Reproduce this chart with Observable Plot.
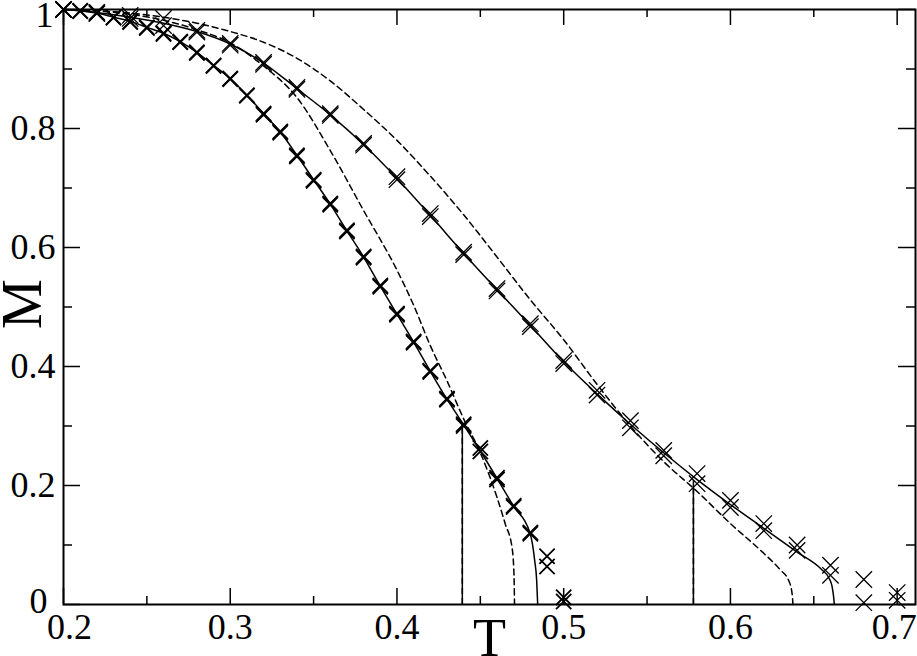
<!DOCTYPE html>
<html>
<head>
<meta charset="utf-8">
<script src="https://cdn.jsdelivr.net/npm/d3@7"></script>
<script src="https://cdn.jsdelivr.net/npm/@observablehq/plot@0.6"></script>
<style>
  html, body { margin: 0; padding: 0; background: #fff; }
  #chart svg { display: block; }
</style>
</head>
<body>
<div id="chart"></div>
<script>
// ---- Data ----
// Left set of markers (two nearly identical series), T step 0.01
const leftT  = [0.20,0.21,0.22,0.23,0.24,0.25,0.26,0.27,0.28,0.29,0.30,0.31,0.32,0.33,0.34,0.35,0.36,0.37,0.38,0.39,0.40,0.41,0.42,0.43,0.44,0.45,0.46,0.47,0.48,0.49,0.50];
const leftMA = [1.000,0.998,0.995,0.987,0.980,0.970,0.960,0.946,0.928,0.906,0.884,0.856,0.825,0.795,0.755,0.714,0.674,0.629,0.585,0.536,0.489,0.442,0.393,0.346,0.303,0.257,0.213,0.166,0.121,0.081,0.012];
const leftMB = [1.000,0.997,0.994,0.986,0.979,0.969,0.959,0.945,0.927,0.905,0.883,0.855,0.823,0.793,0.753,0.712,0.672,0.627,0.583,0.534,0.487,0.440,0.391,0.344,0.300,0.263,0.210,0.164,0.119,0.064,0.005];

// Right set of markers (two series), T step 0.02
const rightT  = [0.20,0.22,0.24,0.26,0.28,0.30,0.32,0.34,0.36,0.38,0.40,0.42,0.44,0.46,0.48,0.50,0.52,0.54,0.56,0.58,0.60,0.62,0.64,0.66,0.68,0.70];
const rightMA = [1.000,0.995,0.990,0.985,0.965,0.943,0.911,0.869,0.825,0.775,0.719,0.657,0.592,0.531,0.472,0.410,0.360,0.309,0.259,0.220,0.175,0.136,0.100,0.066,0.042,0.020];
const rightMB = [1.000,0.993,0.985,0.973,0.962,0.940,0.908,0.866,0.822,0.772,0.714,0.652,0.588,0.527,0.467,0.405,0.352,0.297,0.250,0.203,0.163,0.124,0.091,0.049,0.003,0.007];

// Solid curves
const leftSolidT = [0.20,0.21,0.22,0.23,0.24,0.25,0.26,0.27,0.28,0.29,0.30,0.31,0.32,0.33,0.34,0.35,0.36,0.37,0.38,0.39,0.40,0.41,0.42,0.43,0.44,0.45,0.46,0.47,0.48,0.4826,0.4838,0.4844];
const leftSolidM = [1.000,0.998,0.994,0.987,0.980,0.970,0.960,0.946,0.928,0.906,0.884,0.856,0.825,0.794,0.755,0.714,0.673,0.628,0.584,0.535,0.488,0.441,0.392,0.345,0.302,0.258,0.212,0.165,0.118,0.074,0.040,0.000];
const rightSolidT = [0.20,0.22,0.24,0.26,0.28,0.30,0.32,0.34,0.36,0.38,0.40,0.42,0.44,0.46,0.48,0.50,0.52,0.54,0.56,0.58,0.60,0.62,0.64,0.655,0.659,0.661,0.662,0.6623];
const rightSolidM = [1.000,0.995,0.987,0.977,0.963,0.942,0.910,0.867,0.823,0.773,0.716,0.654,0.590,0.529,0.469,0.408,0.354,0.303,0.255,0.210,0.168,0.128,0.088,0.058,0.045,0.030,0.010,0.000];

// Dashed curves
const leftDashT = [0.20,0.24,0.26,0.28,0.30,0.32,0.34,0.36,0.38,0.40,0.41,0.42,0.43,0.44,0.45,0.46,0.465,0.469,0.4702,0.4705];
const leftDashM = [1.000,0.992,0.982,0.966,0.944,0.905,0.852,0.763,0.662,0.562,0.503,0.435,0.376,0.312,0.255,0.180,0.135,0.096,0.050,0.000];
const rightDashT = [0.20,0.24,0.26,0.28,0.30,0.32,0.34,0.36,0.38,0.40,0.42,0.44,0.46,0.48,0.50,0.52,0.54,0.56,0.58,0.60,0.62,0.63,0.635,0.637,0.6375];
const rightDashM = [1.000,0.994,0.987,0.977,0.963,0.945,0.918,0.880,0.832,0.780,0.720,0.655,0.584,0.512,0.445,0.370,0.300,0.240,0.190,0.136,0.086,0.058,0.040,0.018,0.000];

// Vertical (transition) lines
const transT = [0.4392, 0.5778];
const transSolidTop = [0.304, 0.208];
const transDashTop  = [0.300, 0.197];

// Ticks
const xMajor = [0.2,0.3,0.4,0.5,0.6,0.7];
const xMinor = [0.25,0.35,0.45,0.55,0.65];
const yMajor = [0,0.2,0.4,0.6,0.8,1];
const yMinor = [0.1,0.3,0.5,0.7,0.9];
const xLabel = ["T"];
const yLabel = ["M"];

// ---- Build ----
const zip = (xs, ys) => xs.map((x, i) => ({T: x, M: ys[i]}));
const W = 917, H = 656, mL = 63, mR = 2, mT = 9, mB = 52;
const innerW = W - mL - mR, innerH = H - mT - mB;
const font = "'Liberation Serif', 'Times New Roman', serif";
const fs = 36;

const chart = Plot.plot({
  width: W, height: H,
  marginLeft: mL, marginRight: mR, marginTop: mT, marginBottom: mB,
  x: {domain: [0.2, 0.711]},
  y: {domain: [0, 1]},
  style: {fontFamily: font, background: "#fff", color: "#000", overflow: "visible"},
  marks: [
    // ticks inward on all four sides
    Plot.tickX(xMajor, {x: d => d, insetTop: innerH - 16, stroke: "#000", strokeWidth: 1.5}),
    Plot.tickX(xMajor, {x: d => d, insetBottom: innerH - 16, stroke: "#000", strokeWidth: 1.5}),
    Plot.tickX(xMinor, {x: d => d, insetTop: innerH - 8, stroke: "#000", strokeWidth: 1.5}),
    Plot.tickX(xMinor, {x: d => d, insetBottom: innerH - 8, stroke: "#000", strokeWidth: 1.5}),
    Plot.tickY(yMajor, {y: d => d, insetRight: innerW - 17, stroke: "#000", strokeWidth: 1.5}),
    Plot.tickY(yMajor, {y: d => d, insetLeft: innerW - 17, stroke: "#000", strokeWidth: 1.5}),
    Plot.tickY(yMinor, {y: d => d, insetRight: innerW - 9, stroke: "#000", strokeWidth: 1.5}),
    Plot.tickY(yMinor, {y: d => d, insetLeft: innerW - 9, stroke: "#000", strokeWidth: 1.5}),

    // tick labels
    Plot.axisX(xMajor.slice(1, -1), {tickSize: 0, tickPadding: 9, fontSize: fs, label: null, tickFormat: d => d.toFixed(1)}),
    Plot.axisX(xMajor.slice(0, 1), {tickSize: 0, tickPadding: 9, fontSize: fs, label: null, dx: 6, tickFormat: d => d.toFixed(1)}),
    Plot.axisX(xMajor.slice(-1), {tickSize: 0, tickPadding: 9, fontSize: fs, label: null, dx: -3, tickFormat: d => d.toFixed(1)}),
    Plot.axisY(yMajor.slice(1, -1), {tickSize: 0, tickPadding: 8, fontSize: fs, label: null, tickFormat: d => d.toFixed(1)}),
    Plot.axisY(yMajor.slice(-1), {tickSize: 0, tickPadding: 10, fontSize: fs, label: null, dy: 6, tickFormat: d => String(d)}),
    Plot.axisY(yMajor.slice(0, 1), {tickSize: 0, tickPadding: 16, fontSize: fs, label: null, dy: -3, tickFormat: d => String(d)}),

    // axis titles
    Plot.text(xLabel, {text: d => d, frameAnchor: "bottom", lineAnchor: "bottom", dy: 51, fontSize: 54, fill: "#000"}),
    Plot.text(yLabel, {text: d => d, frameAnchor: "left", rotate: -90, lineAnchor: "bottom", dx: -23, dy: 22, fontSize: 56, fill: "#000"}),

    // transition verticals
    Plot.ruleX(transT.map((t, i) => ({T: t, M: transSolidTop[i]})), {x: "T", y1: 0, y2: "M", stroke: "#000", strokeWidth: 1.5}),
    Plot.ruleX(transT.map((t, i) => ({T: t, M: transDashTop[i]})), {x: "T", y1: 0, y2: "M", stroke: "#000", strokeWidth: 1.5, strokeDasharray: "6,4"}),

    // curves
    Plot.line(zip(leftDashT, leftDashM), {x: "T", y: "M", curve: "monotone-x", stroke: "#000", strokeWidth: 1.5, strokeDasharray: "6,4"}),
    Plot.line(zip(rightDashT, rightDashM), {x: "T", y: "M", curve: "monotone-x", stroke: "#000", strokeWidth: 1.5, strokeDasharray: "6,4"}),
    Plot.line(zip(leftSolidT, leftSolidM), {x: "T", y: "M", curve: "monotone-x", stroke: "#000", strokeWidth: 1.5}),
    Plot.line(zip(rightSolidT, rightSolidM), {x: "T", y: "M", curve: "monotone-x", stroke: "#000", strokeWidth: 1.5}),

    // markers
    Plot.dot(zip(leftT, leftMA), {x: "T", y: "M", symbol: "times", r: 7, stroke: "#000", strokeWidth: 1.8}),
    Plot.dot(zip(leftT, leftMB), {x: "T", y: "M", symbol: "times", r: 7, stroke: "#000", strokeWidth: 1.8}),
    Plot.dot(zip(rightT, rightMA), {x: "T", y: "M", symbol: "times", r: 7.5, stroke: "#000", strokeWidth: 1.3}),
    Plot.dot(zip(rightT, rightMB), {x: "T", y: "M", symbol: "times", r: 7.5, stroke: "#000", strokeWidth: 1.3}),

    Plot.frame({stroke: "#000", strokeWidth: 2})
  ]
});
document.getElementById("chart").appendChild(chart);
</script>
</body>
</html>
